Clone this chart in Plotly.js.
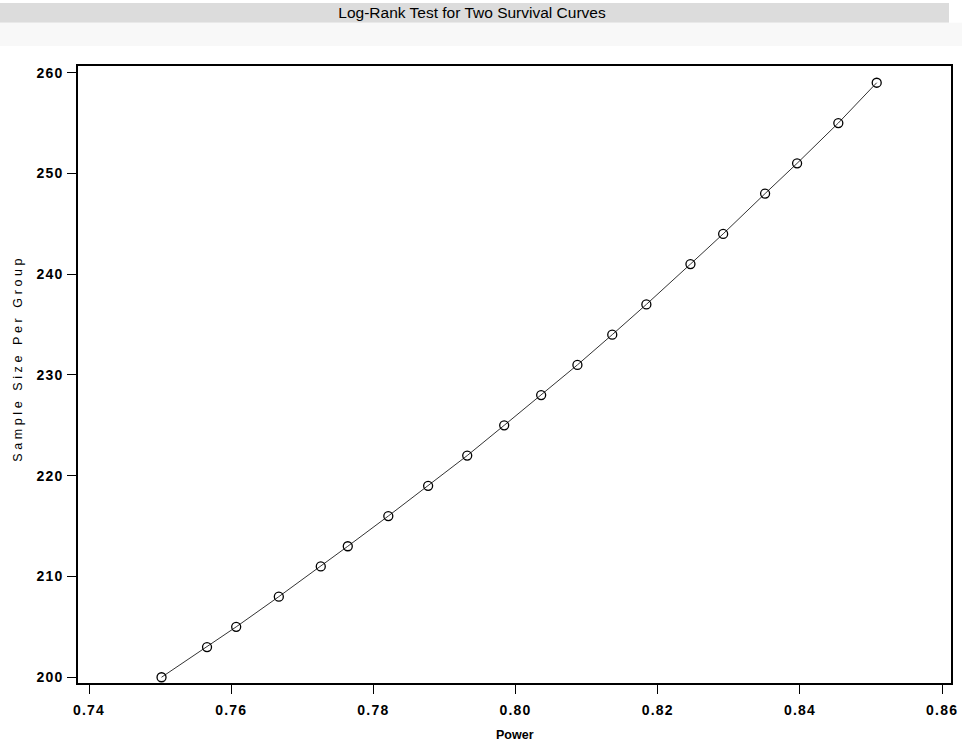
<!DOCTYPE html>
<html>
<head>
<meta charset="utf-8">
<script src="https://cdn.plot.ly/plotly-3.0.1.min.js"></script>
<style>
  html, body { margin: 0; padding: 0; background: #ffffff; }
  #chart { width: 962px; height: 746px; }
  .xtick text, .ytick text { letter-spacing: 1.2px; }
  .annotation.ytitle-ann text { letter-spacing: 3.6px; }
</style>
</head>
<body>
<div id="chart"></div>
<script>
// Data
const power = [0.7502, 0.7566, 0.7607, 0.7667, 0.7726, 0.7764, 0.7821, 0.7877, 0.7932, 0.7984,
               0.8036, 0.8087, 0.8136, 0.8184, 0.8246, 0.8292, 0.8351, 0.8396, 0.8454, 0.8508];
const sampleSize = [200, 203, 205, 208, 211, 213, 216, 219, 222, 225,
                    228, 231, 234, 237, 241, 244, 248, 251, 255, 259];
const xTicks = [0.74, 0.76, 0.78, 0.80, 0.82, 0.84, 0.86];
const xTickLabels = ["0.74", "0.76", "0.78", "0.80", "0.82", "0.84", "0.86"];
const yTicks = [200, 210, 220, 230, 240, 250, 260];
const yTickLabels = ["200", "210", "220", "230", "240", "250", "260"];
const chartTitle = 'Log-Rank Test for Two Survival Curves';
const xTitle = 'Power';
const yTitle = 'Sample Size Per Group';

const trace = {
  x: power,
  y: sampleSize,
  type: 'scatter',
  mode: 'lines+markers',
  line: { color: '#333333', width: 1 },
  marker: { symbol: 'circle-open', size: 9, color: '#000000', line: { width: 1.3, color: '#000000' } },
  hoverinfo: 'x+y',
  showlegend: false
};

const tickFont = { family: 'Liberation Sans, Arial, sans-serif', size: 14, color: '#000000', weight: 'bold' };

const layout = {
  width: 962,
  height: 746,
  margin: { l: 78, r: 11, t: 66, b: 63, pad: 0 },
  paper_bgcolor: '#ffffff',
  plot_bgcolor: '#ffffff',
  title: {
    text: chartTitle,
    font: { family: 'Liberation Sans, Arial, sans-serif', size: 15.5, color: '#000000' },
    x: 472 / 962, xref: 'container', xanchor: 'center',
    y: 1 - 13 / 746, yref: 'container', yanchor: 'middle'
  },
  xaxis: {
    range: [0.73845, 0.86125],
    tickmode: 'array', tickvals: xTicks, ticktext: xTickLabels,
    ticks: 'outside', ticklen: 9, tickwidth: 1, tickcolor: '#000000',
    ticklabelstandoff: 4,
    showgrid: false, zeroline: false,
    showline: true, linecolor: '#000000', linewidth: 1.5, mirror: true,
    tickfont: tickFont,
    automargin: false
  },
  yaxis: {
    range: [199.43, 260.66],
    tickmode: 'array', tickvals: yTicks, ticktext: yTickLabels,
    ticks: 'outside', ticklen: 9, tickwidth: 1, tickcolor: '#000000',
    ticklabelstandoff: 1,
    showgrid: false, zeroline: false,
    showline: true, linecolor: '#000000', linewidth: 1.5, mirror: true,
    tickfont: tickFont,
    automargin: false
  },
  annotations: [
    { text: xTitle, xref: 'paper', yref: 'paper', x: 0.5, y: (683 - 735) / 617,
      xanchor: 'center', yanchor: 'middle', showarrow: false,
      font: { family: 'Liberation Sans, Arial, sans-serif', size: 12.5, color: '#000000', weight: 'bold' } },
    { text: yTitle, xref: 'paper', yref: 'paper', x: (18 - 78) / 873, y: (683 - 358) / 617,
      xanchor: 'center', yanchor: 'middle', showarrow: false, textangle: -90,
      name: 'ytitle',
      font: { family: 'Liberation Sans, Arial, sans-serif', size: 12.5, color: '#000000' } }
  ],
  shapes: [
    { type: 'rect', xref: 'paper', yref: 'paper', layer: 'below',
      x0: -78 / 873, x1: (949 - 78) / 873, y0: (683 - 22.7) / 617, y1: (683 - 3) / 617,
      fillcolor: '#dcdcdc', line: { width: 0 } },
    { type: 'rect', xref: 'paper', yref: 'paper', layer: 'below',
      x0: -78 / 873, x1: (962 - 78) / 873, y0: (683 - 46) / 617, y1: (683 - 22.7) / 617,
      fillcolor: '#f8f8f8', line: { width: 0 } }
  ]
};

Plotly.newPlot('chart', [trace], layout, { displayModeBar: false }).then(function () {
  // apply letter spacing to the y title annotation (second annotation)
  const anns = document.querySelectorAll('.annotation');
  if (anns.length > 1) {
    anns[1].querySelectorAll('text').forEach(function (t) { t.style.letterSpacing = '3.6px'; });
  }
});
</script>
</body>
</html>
